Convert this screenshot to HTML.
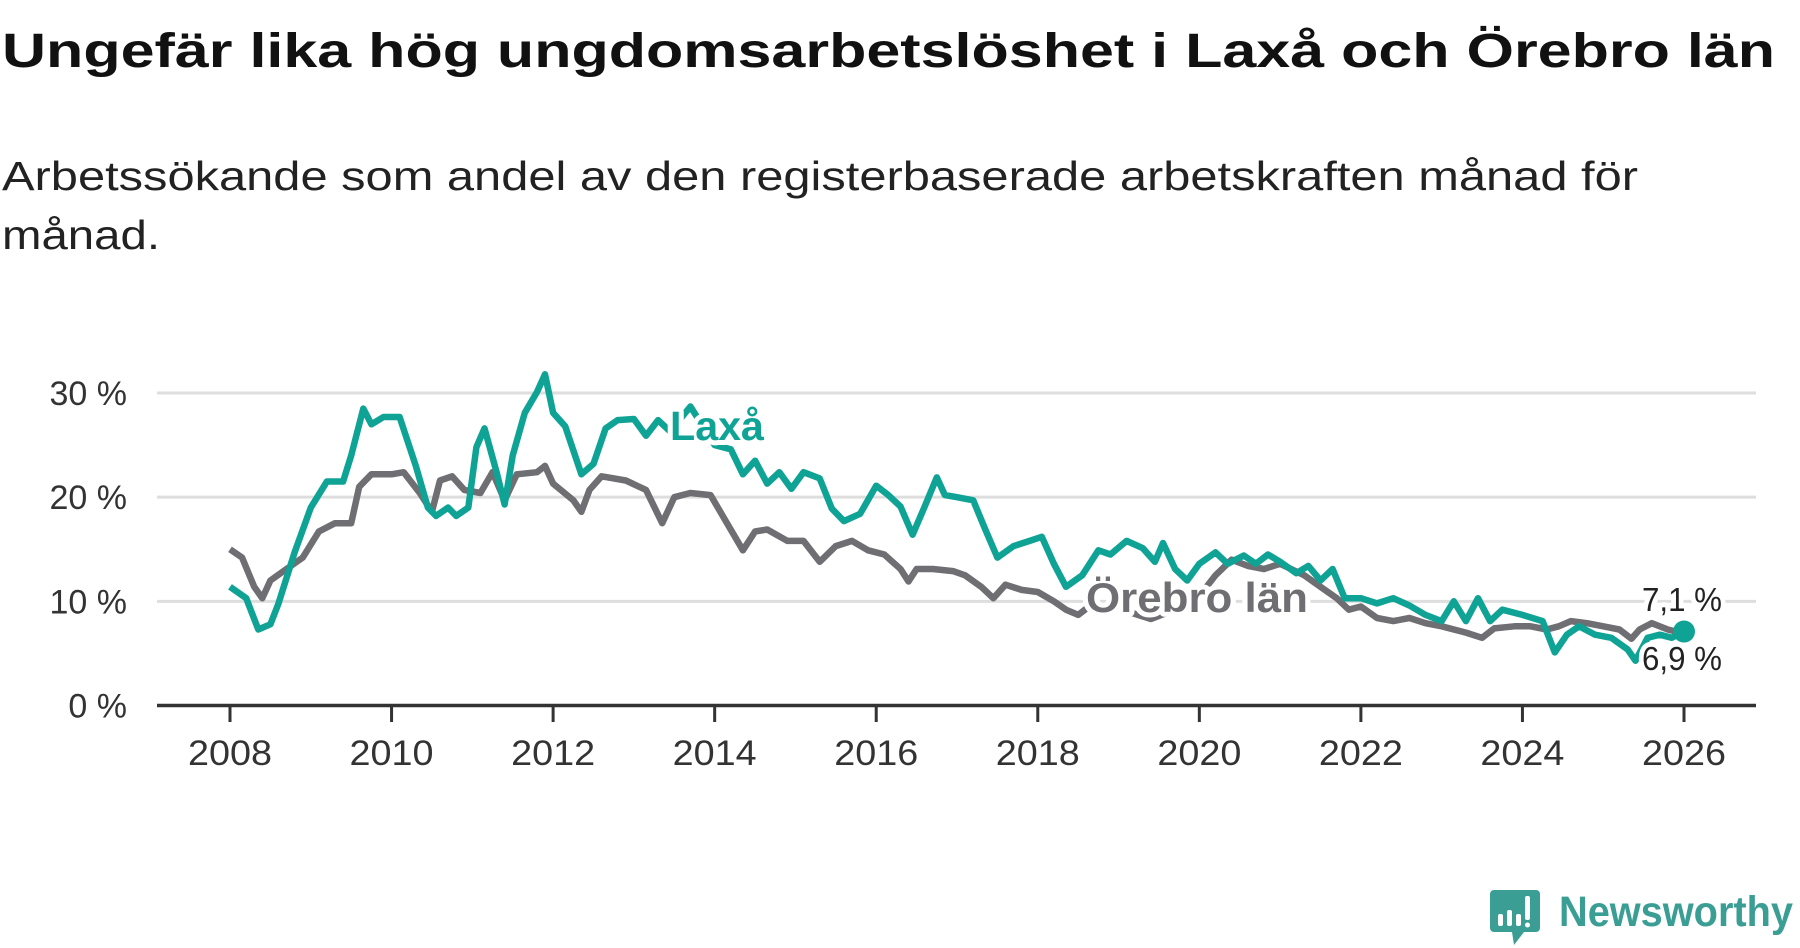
<!DOCTYPE html>
<html><head><meta charset="utf-8"><style>
html,body{margin:0;padding:0;background:#fff;}
svg{display:block;font-family:"Liberation Sans",sans-serif;}
</style></head><body>
<svg id="chart" width="1800" height="948" viewBox="0 0 1800 948">
<text x="2" y="67" font-size="48" font-weight="bold" fill="#111" textLength="1773" lengthAdjust="spacingAndGlyphs">Ungefär lika hög ungdomsarbetslöshet i Laxå och Örebro län</text>
<text x="2" y="190" font-size="41" fill="#222" textLength="1636" lengthAdjust="spacingAndGlyphs">Arbetssökande som andel av den registerbaserade arbetskraften månad för</text>
<text x="2" y="249" font-size="41" fill="#222" textLength="158" lengthAdjust="spacingAndGlyphs">månad.</text>
<g id="grid"></g>
<g id="lines"></g>
<g id="labels"></g>
<g>
<path d="M1494 890 h42 a4 4 0 0 1 4 4 v34 a4 4 0 0 1 -4 4 h-12 l-10 13 l-2 -13 h-18 a4 4 0 0 1 -4 -4 v-34 a4 4 0 0 1 4 -4z" fill="#3a9e94"/>
<rect x="1498" y="914" width="5" height="12" rx="2" fill="#fff"/>
<rect x="1507" y="910" width="5" height="16" rx="2" fill="#fff"/>
<rect x="1516" y="914" width="5" height="12" rx="2" fill="#fff"/>
<rect x="1525" y="896" width="5" height="24" rx="2" fill="#fff"/>
<circle cx="1527.5" cy="925" r="2.5" fill="#fff"/>
<text x="1559" y="926" font-size="43" font-weight="bold" fill="#3a9e94" textLength="234" lengthAdjust="spacingAndGlyphs">Newsworthy</text>
</g>
</svg>
<script>
const yTicks=[0,10,20,30];
const yTickLabels=["0 %","10 %","20 %","30 %"];
const xTicks=[2008,2010,2012,2014,2016,2018,2020,2022,2024,2026];
const laxaDates=[2008.0,2008.2,2008.35,2008.5,2008.6,2008.8,2009.0,2009.2,2009.4,2009.5,2009.65,2009.75,2009.9,2010.1,2010.3,2010.45,2010.55,2010.7,2010.8,2010.95,2011.05,2011.15,2011.3,2011.4,2011.5,2011.65,2011.8,2011.9,2012.0,2012.15,2012.35,2012.5,2012.65,2012.8,2013.0,2013.15,2013.3,2013.45,2013.7,2014.0,2014.2,2014.35,2014.5,2014.65,2014.8,2014.95,2015.1,2015.3,2015.45,2015.6,2015.8,2016.0,2016.15,2016.3,2016.45,2016.6,2016.75,2016.85,2017.0,2017.2,2017.35,2017.5,2017.7,2017.9,2018.05,2018.2,2018.35,2018.55,2018.75,2018.9,2019.1,2019.3,2019.45,2019.55,2019.7,2019.85,2020.0,2020.2,2020.35,2020.55,2020.7,2020.85,2021.0,2021.2,2021.35,2021.5,2021.65,2021.8,2022.0,2022.2,2022.4,2022.6,2022.8,2023.0,2023.15,2023.3,2023.45,2023.6,2023.75,2024.0,2024.25,2024.4,2024.55,2024.7,2024.9,2025.1,2025.3,2025.4,2025.55,2025.7,2025.85,2026.0];
const laxaValues=[11.4,10.3,7.3,7.8,9.8,14.7,19,21.5,21.5,24,28.5,27,27.7,27.7,23,19,18.2,19,18.2,19,24.8,26.6,22.4,19.3,24,28.1,30.1,31.8,28.1,26.8,22.2,23.2,26.6,27.4,27.5,25.9,27.4,26.3,28.7,25,24.6,22.2,23.5,21.3,22.4,20.8,22.4,21.8,18.9,17.7,18.4,21.1,20.2,19.1,16.4,19.1,21.9,20.2,20,19.7,16.9,14.2,15.3,15.8,16.2,13.6,11.4,12.5,14.9,14.5,15.8,15.1,13.8,15.6,13.1,12,13.6,14.7,13.6,14.4,13.6,14.5,13.8,12.7,13.4,12,13.1,10.3,10.3,9.8,10.3,9.6,8.7,8.1,10,8.1,10.3,8.1,9.2,8.7,8.1,5.1,6.8,7.6,6.8,6.5,5.4,4.3,6.5,6.8,6.5,7.1];
const orebroDates=[2008.0,2008.15,2008.3,2008.4,2008.5,2008.7,2008.9,2009.1,2009.3,2009.5,2009.6,2009.75,2010.0,2010.15,2010.35,2010.5,2010.6,2010.75,2010.9,2011.1,2011.25,2011.4,2011.55,2011.8,2011.9,2012.0,2012.25,2012.35,2012.45,2012.6,2012.9,2013.15,2013.35,2013.5,2013.7,2013.95,2014.1,2014.35,2014.5,2014.65,2014.9,2015.1,2015.3,2015.5,2015.7,2015.9,2016.1,2016.3,2016.4,2016.5,2016.7,2016.95,2017.1,2017.3,2017.45,2017.6,2017.8,2018.0,2018.2,2018.35,2018.5,2018.65,2019.0,2019.4,2019.7,2020.0,2020.2,2020.4,2020.6,2020.8,2021.0,2021.3,2021.5,2021.7,2021.85,2022.0,2022.2,2022.4,2022.6,2022.8,2023.0,2023.3,2023.5,2023.65,2023.9,2024.1,2024.3,2024.45,2024.6,2024.8,2025.0,2025.2,2025.35,2025.45,2025.6,2025.8,2026.0];
const orebroValues=[15,14.2,11.4,10.3,12,13.1,14.2,16.7,17.5,17.5,21,22.2,22.2,22.4,20.4,18.6,21.6,22,20.7,20.4,22.4,19.7,22.2,22.4,23,21.3,19.7,18.6,20.7,22,21.6,20.7,17.5,20,20.4,20.2,18.2,14.9,16.7,16.9,15.8,15.8,13.8,15.3,15.8,14.9,14.5,13.1,11.9,13.1,13.1,12.9,12.5,11.4,10.3,11.6,11.1,10.9,10,9.2,8.7,9.6,9.3,8.3,9.2,10.5,12.5,14,13.4,13.1,13.6,12.5,11.4,10.3,9.2,9.5,8.4,8.1,8.4,7.9,7.6,7,6.5,7.4,7.6,7.6,7.3,7.6,8.1,7.9,7.6,7.3,6.4,7.3,7.9,7.3,6.9];
const NS="http://www.w3.org/2000/svg";
const X0=157,X1=1756;
function xS(t){return 230+(t-2008)*(1684-230)/18;}
function yS(v){return 705.5-v*(705.5-393)/30;}
function mk(tag,attrs,parent){const e=document.createElementNS(NS,tag);for(const k in attrs)e.setAttribute(k,attrs[k]);parent.appendChild(e);return e;}
const grid=document.getElementById('grid');
yTicks.forEach((v,i)=>{
  if(v!==0){const g=mk('line',{x1:X0,x2:X1,y1:yS(v),y2:yS(v),stroke:'#dedede','stroke-width':3},grid);
  
  }
  const t=mk('text',{x:127,y:yS(v)+12,'text-anchor':'end','font-size':34,fill:'#333'},grid);
  t.textContent=yTickLabels[i];
  
  
});
xTicks.forEach(yr=>{
  const tk=mk('line',{x1:xS(yr),x2:xS(yr),y1:705,y2:722,stroke:'#333','stroke-width':3},grid);
  
  
  const t=mk('text',{x:xS(yr)-42,y:765,'font-size':35,fill:'#333',textLength:84,lengthAdjust:'spacingAndGlyphs'},grid);
  t.textContent=yr;
  
  
});
const ax=mk('line',{x1:X0,x2:X1,y1:yS(0),y2:yS(0),stroke:'#333','stroke-width':3.5},grid);


const lines=document.getElementById('lines');
function path(d,v){return d.map((t,i)=>(i?'L':'M')+xS(t).toFixed(1)+' '+yS(v[i]).toFixed(1)).join(' ');}
const lo=mk('path',{d:path(orebroDates,orebroValues),fill:'none',stroke:'#6f6e72','stroke-width':6.5,'stroke-linejoin':'round'},lines);


const ll=mk('path',{d:path(laxaDates,laxaValues),fill:'none',stroke:'#0fa396','stroke-width':6.5,'stroke-linejoin':'round'},lines);


const lastL=laxaValues[laxaValues.length-1],lastO=orebroValues[orebroValues.length-1];
const dot=mk('circle',{cx:xS(laxaDates[laxaDates.length-1]),cy:yS(lastL),r:11,fill:'#0fa396'},lines);


const labels=document.getElementById('labels');
function lab(txt,x,y,size,weight,fill,name,len){
  const t=mk('text',{x:x,y:y,'font-size':size,'font-weight':weight,fill:fill,stroke:'#fff','stroke-width':10,'paint-order':'stroke','stroke-linejoin':'round'},labels);
  if(len){t.setAttribute('textLength',len);t.setAttribute('lengthAdjust','spacingAndGlyphs');}
  t.textContent=txt;
  
  
}
lab('Laxå',670,440,41,'bold','#0fa396','laxa-label',94);
lab('Örebro län',1086,612,42,'bold','#6f6e72','orebro-label',222);
lab(lastL.toFixed(1).replace('.',',')+' %',1642,611,33,'normal','#222','laxa-end-value',80);
lab(lastO.toFixed(1).replace('.',',')+' %',1642,670,33,'normal','#222','orebro-end-value',80);
</script>
</body></html>
